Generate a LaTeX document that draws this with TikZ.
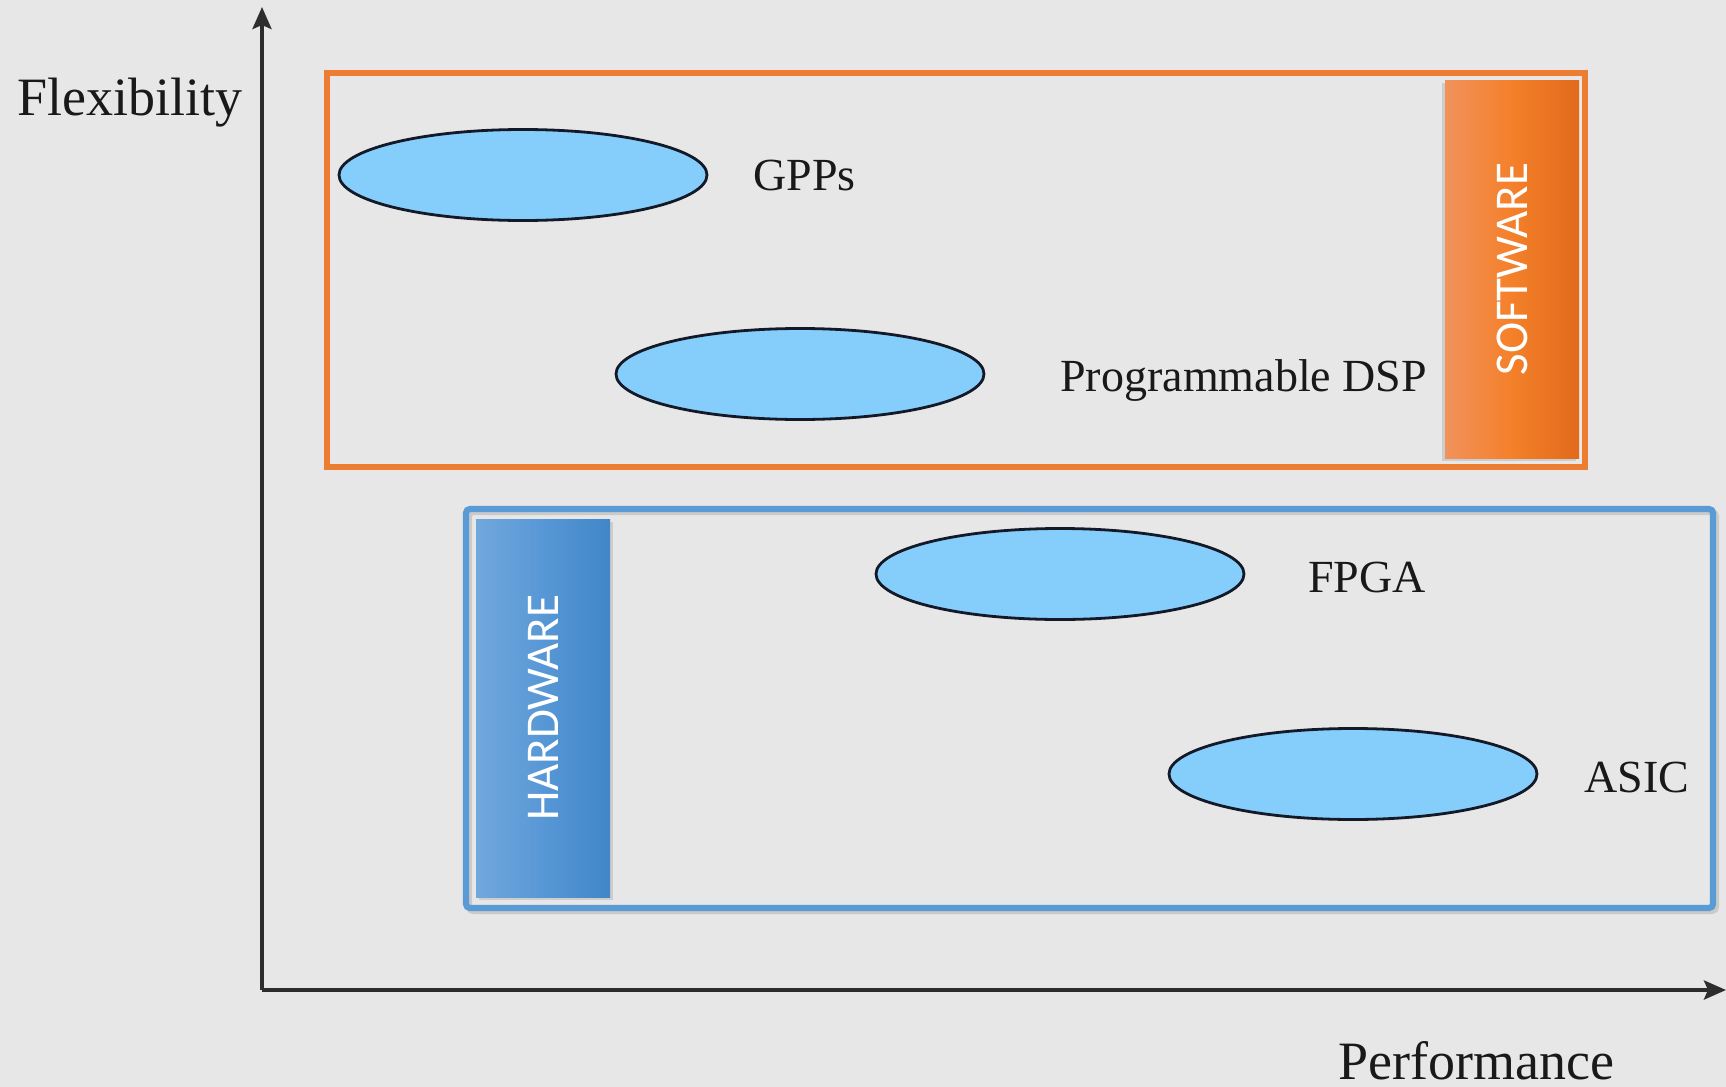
\documentclass[tikz,border=0pt]{standalone}
\usepackage{fontspec}
\setmainfont{Liberation Serif}
\newfontfamily\barfont{Carlito}
\usetikzlibrary{arrows.meta}
\usetikzlibrary{shapes.geometric}
\usetikzlibrary{shadows}

\definecolor{bggray}{RGB}{231,231,231}
\definecolor{chipblue}{RGB}{133,205,251}
\definecolor{chipline}{RGB}{20,25,40}
\definecolor{sworange}{RGB}{237,125,49}
\definecolor{hwblue}{RGB}{91,155,213}
\definecolor{swlight}{RGB}{241,146,92}
\definecolor{swmid}{RGB}{244,128,42}
\definecolor{swdark}{RGB}{226,106,27}
\definecolor{hwlight}{RGB}{113,168,220}
\definecolor{hwmid}{RGB}{88,151,214}
\definecolor{hwdark}{RGB}{64,135,200}
\definecolor{axisgray}{RGB}{45,45,45}

\tikzset{
	chip/.style={ellipse, draw=chipline, line width=1.4pt, fill=chipblue, minimum width=184pt, minimum height=45.5pt, inner sep=0pt},
	chiplabel/.style={anchor=base west, inner sep=0pt, text=black!90, font=\fontsize{23}{28}\selectfont},
	axislabel/.style={anchor=base west, inner sep=0pt, text=black!90, font=\fontsize{27}{32}\selectfont},
	axisline/.style={draw=axisgray, line width=2pt, -{Stealth[length=11pt, width=9.5pt, inset=2pt]}},
	bar/.style={minimum width=67pt, minimum height=189pt, inner sep=0pt, text=white, font=\barfont\fontsize{23.5}{28}\selectfont},
	swbar/.style={bar, left color=swlight, right color=swdark, middle color=swmid, drop shadow={shadow xshift=-1.5pt, shadow yshift=-1.5pt, opacity=.25}},
	hwbar/.style={bar, left color=hwlight, right color=hwdark, middle color=hwmid, drop shadow={shadow xshift=1.5pt, shadow yshift=-1.5pt, opacity=.25}},
	swframe/.style={draw=sworange, line width=3.3pt},
	hwframe/.style={draw=hwblue, line width=3.1pt, rounded corners=2pt}
}

\begin{document}
\begin{tikzpicture}[x=0.5pt, y=-0.5pt]

	%background, fixes the page size
	\fill[bggray] (0,0) rectangle (1726,1087);
	\useasboundingbox (0,0) rectangle (1726,1087);

	%axes
	\coordinate (origin) at (262,990);
	\coordinate (ytip) at (262,7);
	\coordinate (xtip) at (1726,990);
	\draw[axisline] (origin) -- (ytip);
	\draw[axisline] (origin) -- (xtip);
	\node[axislabel] (flex) at (17,115) {Flexibility};
	\node[axislabel] (perf) at (1338,1079) {Performance};

	%software and hardware frames
	\draw[swframe] (327,73) rectangle (1585,467);
	\draw[black, opacity=.12, line width=3pt, rounded corners=2pt] (469,512) rectangle (1716,911);
	\draw[hwframe] (466,509) rectangle (1713,908);

	%side bars
	\node[swbar] (software) at (1512,269) {\rotatebox{90}{SOFTWARE}};
	\node[hwbar] (hardware) at (543,708) {\rotatebox{90}{HARDWARE}};

	%processor classes
	\node[chip] (gpp) at (523,175) {};
	\node[chip] (dsp) at (800,374) {};
	\node[chip] (fpga) at (1060,574) {};
	\node[chip] (asic) at (1353,774) {};
	%class labels
	\node[chiplabel] (gpplbl) at (753,190) {GPPs};
	\node[chiplabel] (dsplbl) at (1060,391) {Programmable DSP};
	\node[chiplabel] (fpgalbl) at (1308,592) {FPGA};
	\node[chiplabel] (asiclbl) at (1584,792) {ASIC};

\end{tikzpicture}
\end{document}
